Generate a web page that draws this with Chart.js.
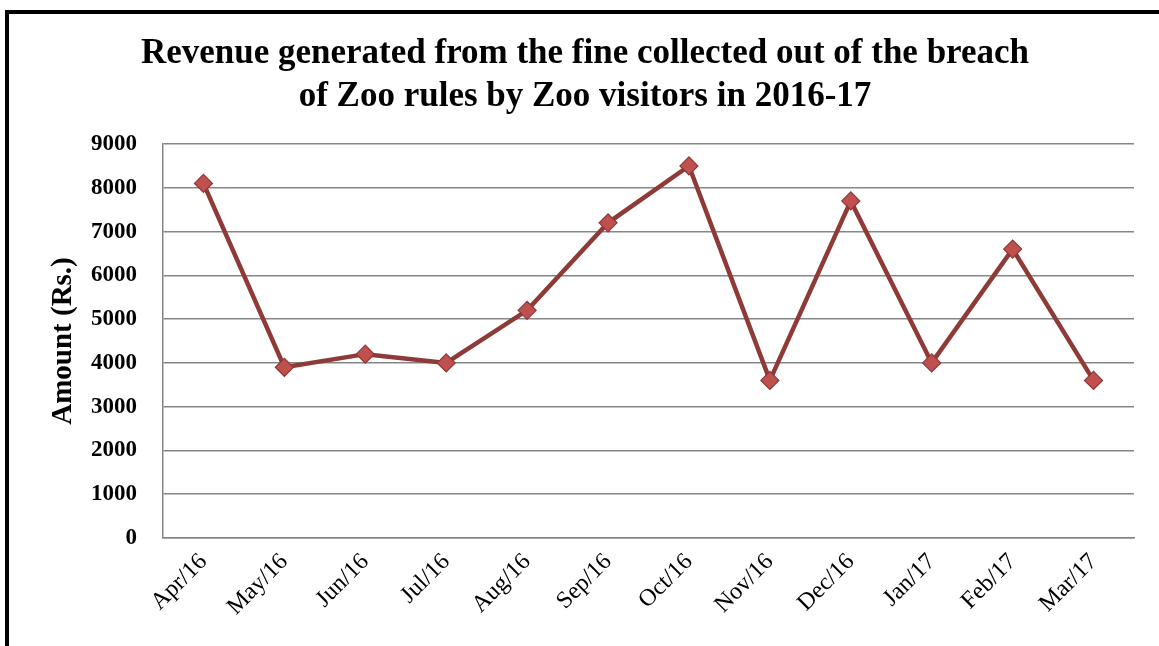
<!DOCTYPE html>
<html>
<head>
<meta charset="utf-8">
<script src="https://cdn.jsdelivr.net/npm/chart.js@4.4.0/dist/chart.umd.min.js"></script>
<style>
  html, body { margin: 0; padding: 0; background: #fff; overflow: hidden; }
  #wrap { position: relative; width: 1159px; height: 646px; }
  #frame {
    position: absolute; left: 5px; top: 10px; width: 1300px; height: 800px;
    border: 4px solid #000; pointer-events: none;
  }
</style>
</head>
<body>
<div id="wrap">
  <canvas id="zooChart" width="1159" height="646"></canvas>
  <div id="frame"></div>
</div>
<script>
// Monthly fine revenue (Rs.)
const months = ["Apr/16", "May/16", "Jun/16", "Jul/16", "Aug/16", "Sep/16",
                "Oct/16", "Nov/16", "Dec/16", "Jan/17", "Feb/17", "Mar/17"];
const amounts = [8100, 3900, 4200, 4000, 5200, 7200, 8500, 3600, 7700, 4000, 6600, 3600];
const yTicks = [0, 1000, 2000, 3000, 4000, 5000, 6000, 7000, 8000, 9000];

const titleLines = [
  "Revenue generated from the fine collected out of the breach",
  "of Zoo rules by Zoo visitors in 2016-17",
];

const serif = "'Liberation Serif', 'DejaVu Serif', serif";
const gridGray = "#868686";

new Chart(document.getElementById("zooChart"), {
  type: "line",
  data: {
    labels: months,
    datasets: [
      {
        label: "Amount",
        data: amounts,
        borderColor: "#8E3A37",
        borderWidth: 4.5,
        pointStyle: "rectRot",
        pointRadius: 9,
        pointBackgroundColor: "#C0504D",
        pointBorderColor: "#8C3836",
        pointBorderWidth: 1.2,
        tension: 0,
      },
    ],
  },
  options: {
    responsive: false,
    animation: false,
    layout: { padding: { top: 0, right: 0, bottom: 0, left: 11 } },
    plugins: {
      legend: { display: false },
      tooltip: { enabled: false },
      title: {
        display: true,
        text: titleLines,
        color: "#000",
        font: { family: serif, size: 35, weight: "bold", lineHeight: 1.229 },
        padding: { top: 32, bottom: 26 },
      },
    },
    scales: {
      x: {
        offset: true,
        grid: { display: false, drawTicks: false },
        border: { display: true, color: gridGray, width: 1.5 },
        ticks: {
          color: "#000",
          font: { family: serif, size: 24 },
          maxRotation: 45,
          minRotation: 45,
          padding: 10,
          autoSkip: false,
        },
        afterFit: (scale) => { scale.height = 108; },
      },
      y: {
        min: 0,
        max: 9000,
        afterBuildTicks: (scale) => {
          scale.ticks = yTicks.map((v) => ({ value: v }));
        },
        grid: { color: gridGray, lineWidth: 1.5, drawTicks: false },
        border: { display: true, color: gridGray, width: 1.5 },
        ticks: {
          color: "#000",
          font: { family: serif, size: 23, weight: "bold" },
          padding: 26,
          callback: (v) => String(v),
        },
        title: {
          display: true,
          text: "Amount (Rs.)",
          color: "#000",
          font: { family: serif, size: 29, weight: "bold" },
          padding: { top: 35 },
        },
        afterFit: (scale) => { scale.width = 152; },
      },
      // empty right-hand spacer so the plot ends short of the frame edge
      spacer: {
        type: "linear",
        position: "right",
        display: true,
        grid: { display: false, drawTicks: false },
        border: { display: false },
        ticks: { display: false },
        afterFit: (scale) => { scale.width = 25; },
      },
    },
  },
});
</script>
</body>
</html>
